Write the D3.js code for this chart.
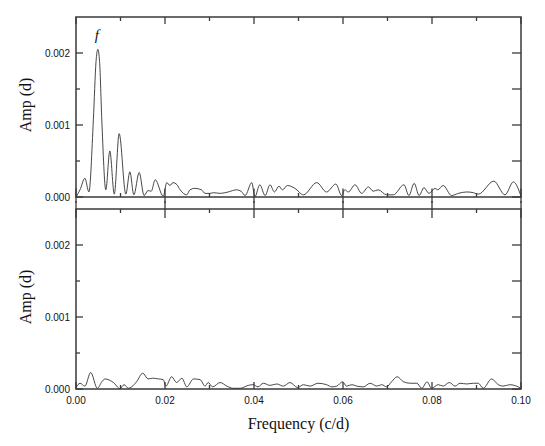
<!DOCTYPE html>
<html>
<head>
<meta charset="utf-8">
<script src="https://cdn.jsdelivr.net/npm/d3@7"></script>
<style>
  html, body { margin: 0; padding: 0; background: #fff; }
  svg { display: block; }
</style>
</head>
<body>
<script>
// ---- data ----
const topFreq = [0,0.0009,0.0020,0.0029,0.0039,0.0045,0.0049,0.0053,0.0058,0.0067,0.0076,0.0086,0.0097,0.0112,0.0121,0.0130,0.0142,0.0153,0.0162,0.0169,0.0178,0.0196,0.0204,0.0211,0.0218,0.0227,0.0234,0.0249,0.0256,0.0267,0.0282,0.0290,0.0301,0.0309,0.0324,0.0342,0.0361,0.0371,0.0380,0.0395,0.0402,0.0413,0.0425,0.0436,0.0446,0.0456,0.0464,0.0475,0.0492,0.0511,0.0541,0.0563,0.0584,0.0597,0.0604,0.0612,0.0627,0.0642,0.0657,0.0668,0.0679,0.0698,0.0713,0.0737,0.0748,0.0760,0.0771,0.0782,0.0793,0.0807,0.0813,0.0825,0.0844,0.0859,0.0878,0.0893,0.0904,0.0939,0.0964,0.0983,0.1000];
const topAmp = [0,0.00010,0.00026,0.00007,0.00107,0.00188,0.00205,0.00188,0.00107,0.00010,0.00064,0.00004,0.00088,0.00004,0.00035,0.00003,0.00034,0.00002,0.00009,0.00008,0.00024,0.00001,0.00020,0.00016,0.00020,0.00017,0.00010,0.00003,0.00010,0.00012,0.00010,0.00005,0.00005,0.00006,0.00005,0.00007,0.00010,0.00008,0.00002,0.00020,0.000003,0.00017,0.00002,0.00017,0.00007,0.00015,0.00010,0.00016,0.00012,0.00003,0.00020,0.00007,0.00018,0.00002,0.00010,0.00007,0.00017,0.00005,0.00014,0.00008,0.00010,0.00003,0.00003,0.00017,0.00002,0.00019,0.00002,0.00013,0.00005,0.00012,0.00010,0.00016,0.00002,0.00005,0.00007,0.00006,0.00004,0.00022,0.00003,0.00021,0.00001];

const bottomFreq = [0,0.0009,0.0020,0.0033,0.0048,0.0058,0.0065,0.0084,0.0099,0.0108,0.0118,0.0125,0.0136,0.0150,0.0162,0.0172,0.0185,0.0196,0.0202,0.0215,0.0226,0.0238,0.0249,0.0264,0.0279,0.0290,0.0297,0.0307,0.0324,0.0339,0.0353,0.0369,0.0387,0.0398,0.0409,0.0421,0.0436,0.0451,0.0466,0.0481,0.0498,0.0511,0.0526,0.0544,0.0563,0.0575,0.0586,0.0599,0.0608,0.0620,0.0631,0.0646,0.0661,0.0676,0.0687,0.0698,0.0709,0.0722,0.0736,0.0751,0.0766,0.0777,0.0789,0.0799,0.0814,0.0825,0.0839,0.0852,0.0863,0.0878,0.0893,0.0904,0.0915,0.0934,0.0949,0.0960,0.0975,0.0990,0.1000];
const bottomAmp = [0.00002,0.00008,0.00004,0.00023,0.00001,0.00010,0.00014,0.00009,0.000005,0.00006,0.00001,0.00003,0.00010,0.00022,0.00014,0.00015,0.00014,0.00013,0.00004,0.00017,0.00009,0.00015,0.00003,0.00014,0.00013,0.00004,0.00009,0.00003,0.00009,0.00004,0.00001,0.00001,0.00005,0.00006,0.00003,0.00008,0.00005,0.00007,0.00004,0.00009,0.00002,0.00006,0.00004,0.00008,0.00006,0.00003,0.00004,0.00010,0.00004,0.00006,0.00004,0.00003,0.00008,0.00004,0.00006,0.00003,0.00010,0.00017,0.00010,0.00008,0.00008,0.00001,0.00010,0.00001,0.00006,0.00004,0.00009,0.00004,0.00008,0.00007,0.00008,0.00008,0.00001,0.00014,0.00006,0.00004,0.00006,0.00004,0.00001];

const xMajorTicks = [0, 0.02, 0.04, 0.06, 0.08, 0.10];
const xMinorTicks = [0.01, 0.03, 0.05, 0.07, 0.09];
const yMajorTicks = [0, 0.001, 0.002];
const yMinorTicks = [0.0005, 0.0015];
const peakLabel = { text: "f", freq: 0.0049, amp: 0.00205 };

// ---- layout ----
const W = 545, H = 446;
const left = 76, right = 521;
const panels = [
  { top: 17,  bottom: 197, freq: topFreq,    amp: topAmp,    isTop: true },
  { top: 209, bottom: 389, freq: bottomFreq, amp: bottomAmp, isTop: false }
];
const frameColor = "#3a3a3a";

const svg = d3.select("body").append("svg").attr("width", W).attr("height", H);
const x = d3.scaleLinear().domain([0, 0.1]).range([left, right]);

panels.forEach((p, i) => {
  const y = d3.scaleLinear().domain([0, 0.0025]).range([p.bottom, p.top]);
  const g = svg.append("g");

  const cid = "clip" + i;
  svg.append("clipPath").attr("id", cid).append("rect")
    .attr("x", left).attr("y", p.top).attr("width", right - left).attr("height", p.bottom - p.top);

  const data = p.freq.map((f, k) => [f, p.amp[k]]);
  g.append("path")
    .datum(data)
    .attr("clip-path", `url(#${cid})`)
    .attr("fill", "none")
    .attr("stroke", "#333")
    .attr("stroke-width", 0.9)
    .attr("d", d3.line().x(d => x(d[0])).y(d => y(d[1])).curve(d3.curveMonotoneX));

  g.append("rect")
    .attr("x", left).attr("y", p.top).attr("width", right - left).attr("height", p.bottom - p.top)
    .attr("fill", "none").attr("stroke", frameColor).attr("stroke-width", 1.5);

  const tick = (x1, y1, x2, y2) => g.append("line")
    .attr("x1", x1).attr("y1", y1).attr("x2", x2).attr("y2", y2)
    .attr("stroke", frameColor).attr("stroke-width", 1.3);

  xMajorTicks.forEach(t => {
    const px = x(t);
    if (p.isTop) {
      tick(px, p.top, px, p.top + 7);
      tick(px, p.bottom + 6, px, p.bottom - 8.5);
    } else {
      tick(px, p.top - 8, px, p.top + 9);
      tick(px, p.bottom, px, p.bottom - 7);
    }
  });
  xMinorTicks.forEach(t => {
    const px = x(t);
    tick(px, p.top, px, p.top + 4);
    tick(px, p.bottom, px, p.bottom - 4);
  });
  yMajorTicks.forEach(t => {
    const py = y(t);
    tick(left, py, left + 7, py);
    tick(right, py, right - 9, py);
  });
  yMinorTicks.forEach(t => {
    const py = y(t);
    tick(left, py, left + 4, py);
    tick(right, py, right - 9, py);
  });

  g.selectAll("text.yl").data(yMajorTicks).enter().append("text")
    .attr("x", left - 6).attr("y", d => y(d))
    .attr("dy", "0.35em")
    .attr("text-anchor", "end")
    .attr("font-family", "'Liberation Sans', Arial, sans-serif")
    .attr("font-size", 10)
    .attr("fill", "#111")
    .text(d => d3.format(".3f")(d));

  g.append("text")
    .attr("transform", `translate(31, ${(p.top + p.bottom) / 2 - 2}) rotate(-90)`)
    .attr("text-anchor", "middle")
    .attr("font-family", "'Liberation Serif', 'Times New Roman', serif")
    .attr("font-size", 16)
    .attr("fill", "#111")
    .text("Amp (d)");

  if (p.isTop) {
    g.append("text")
      .attr("x", x(peakLabel.freq) - 1)
      .attr("y", y(peakLabel.amp) - 9)
      .attr("text-anchor", "middle")
      .attr("font-family", "'Liberation Serif', 'Times New Roman', serif")
      .attr("font-style", "italic")
      .attr("font-size", 15)
      .attr("fill", "#111")
      .text(peakLabel.text);
  } else {
    g.selectAll("text.xl").data(xMajorTicks).enter().append("text")
      .attr("x", d => x(d)).attr("y", p.bottom + 15)
      .attr("text-anchor", "middle")
      .attr("font-family", "'Liberation Sans', Arial, sans-serif")
      .attr("font-size", 10)
      .attr("fill", "#111")
      .text(d => d3.format(".2f")(d));

    g.append("text")
      .attr("x", (left + right) / 2).attr("y", 429)
      .attr("text-anchor", "middle")
      .attr("font-family", "'Liberation Serif', 'Times New Roman', serif")
      .attr("font-size", 16)
      .attr("fill", "#111")
      .text("Frequency (c/d)");
  }
});
</script>
</body>
</html>
